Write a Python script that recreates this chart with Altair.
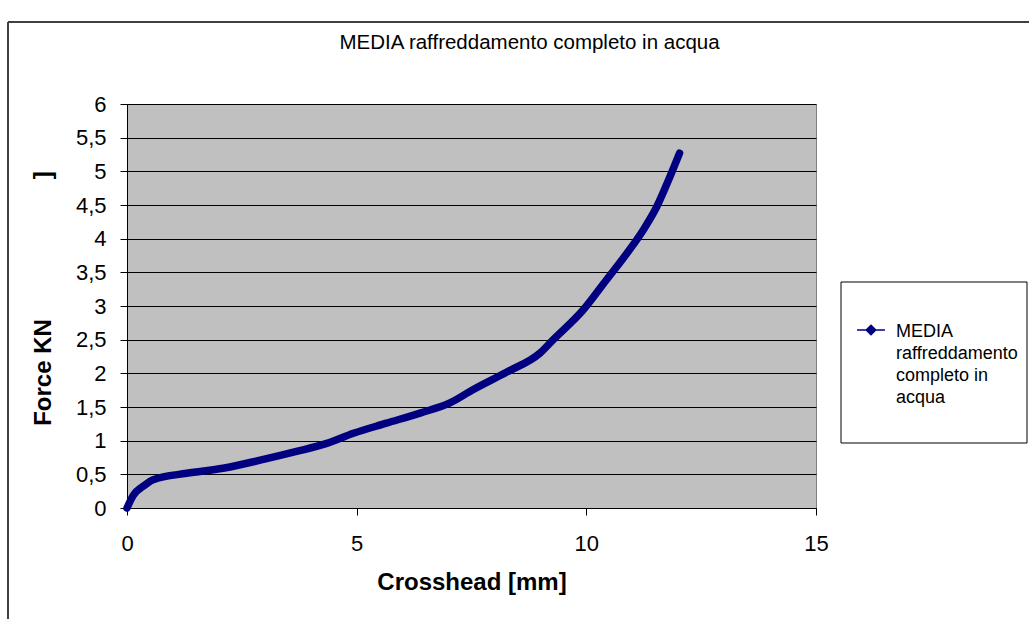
import altair as alt
import pandas as pd

# Averaged load/displacement curve (full water quench)
crosshead_mm = [0.0, 0.13, 0.39, 0.57, 1.30, 2.09, 2.90, 3.69, 4.35, 4.93, 5.65, 6.38,
                7.03, 7.54, 8.27, 8.99, 9.28, 9.93, 10.44, 10.88, 11.24, 11.53, 11.82, 12.03]
force_kn = [0.0, 0.18, 0.34, 0.42, 0.515, 0.59, 0.71, 0.84, 0.96, 1.11, 1.26, 1.41,
            1.56, 1.76, 2.02, 2.30, 2.50, 2.94, 3.39, 3.78, 4.13, 4.47, 4.92, 5.27]
series_name = "MEDIA raffreddamento completo in acqua"
legend_lines = ["MEDIA", "raffreddamento", "completo in", "acqua"]

x_ticks = [0, 5, 10, 15]
y_ticks = [0, 0.5, 1, 1.5, 2, 2.5, 3, 3.5, 4, 4.5, 5, 5.5, 6]

FONT = "Liberation Sans"
NAVY = "#000080"

df = pd.DataFrame({"Crosshead": crosshead_mm, "Force": force_kn, "Serie": series_name})

comma_labels = "replace(format(datum.value, '~g'), '.', ',')"

# legend symbol: short line with a diamond in the middle
legend_symbol = "M-2.33,0L2.33,0M0,-0.8L0.8,0L0,0.8L-0.8,0Z"

curve = alt.Chart(df).mark_line(
    strokeWidth=7.5, interpolate="monotone", strokeCap="round", strokeJoin="round"
).encode(
    x=alt.X("Crosshead:Q",
            scale=alt.Scale(domain=[0, 15], nice=False, zero=True),
            axis=alt.Axis(values=x_ticks, title="Crosshead [mm]", grid=False,
                          labelExpr=comma_labels, labelFont=FONT, labelFontSize=22,
                          labelColor="black", labelPadding=18, labelFlush=False,
                          tickSize=7, tickColor="black", domainColor="black",
                          titleFont=FONT, titleFontSize=24, titleFontWeight="bold",
                          titleColor="black", titlePadding=16)),
    y=alt.Y("Force:Q",
            scale=alt.Scale(domain=[0, 6], nice=False, zero=True),
            axis=alt.Axis(values=y_ticks,
                          title="Force KN" + "\u00a0" * 21 + "]",
                          grid=True, gridColor="black", gridWidth=1,
                          labelExpr=comma_labels, labelFont=FONT, labelFontSize=22,
                          labelColor="black", labelPadding=14, labelFlush=False,
                          tickSize=7, tickColor="black", domainColor="black",
                          titleFont=FONT, titleFontSize=24, titleFontWeight="bold",
                          titleColor="black", titlePadding=20, titleY=194)),
    color=alt.Color("Serie:N", scale=alt.Scale(range=[NAVY]),
                    legend=alt.Legend(
                        orient="none", legendX=737, legendY=219,
                        title=legend_lines, titleOrient="right", titleAnchor="start",
                        titleBaseline="top", titleLineHeight=22, titlePadding=8,
                        titleFont=FONT, titleFontSize=18, titleFontWeight="normal",
                        titleColor="black", titleLimit=0,
                        padding=0, labelExpr="''", labelOffset=0, labelFontSize=1,
                        symbolType=legend_symbol, symbolSize=144,
                        symbolStrokeWidth=1.5, symbolFillColor=NAVY,
                        symbolStrokeColor=NAVY)),
)

# legend frame
legend_box = alt.Chart(alt.Data(values=[{}])).mark_rect(
    fill="white", stroke="black", strokeWidth=1
).encode(x=alt.value(714), x2=alt.value(900), y=alt.value(178), y2=alt.value(339))

# outer frame of the chart (left and top edges)
frame_left = alt.Chart(alt.Data(values=[{}])).mark_rule(color="#404040", strokeWidth=2).encode(
    x=alt.value(-119), y=alt.value(-82), y2=alt.value(520))
frame_top = alt.Chart(alt.Data(values=[{}])).mark_rule(color="#404040", strokeWidth=2).encode(
    x=alt.value(-119), x2=alt.value(910), y=alt.value(-82))

chart = alt.layer(curve, legend_box, frame_left, frame_top).properties(
    width=689, height=404,
    padding={"left": 127, "top": 104, "right": 213, "bottom": 111},
    autosize=alt.AutoSizeParams(type="none"),
    background="white",
    title=alt.TitleParams(series_name, font=FONT, fontSize=20.5, fontWeight="normal",
                          color="black", anchor="middle", dx=58, offset=-52,
                          baseline="bottom"),
).configure_view(
    fill="#C0C0C0", stroke="#808080", strokeWidth=1
)

chart.save("out.html", embed_options={"renderer": "svg", "actions": False})
